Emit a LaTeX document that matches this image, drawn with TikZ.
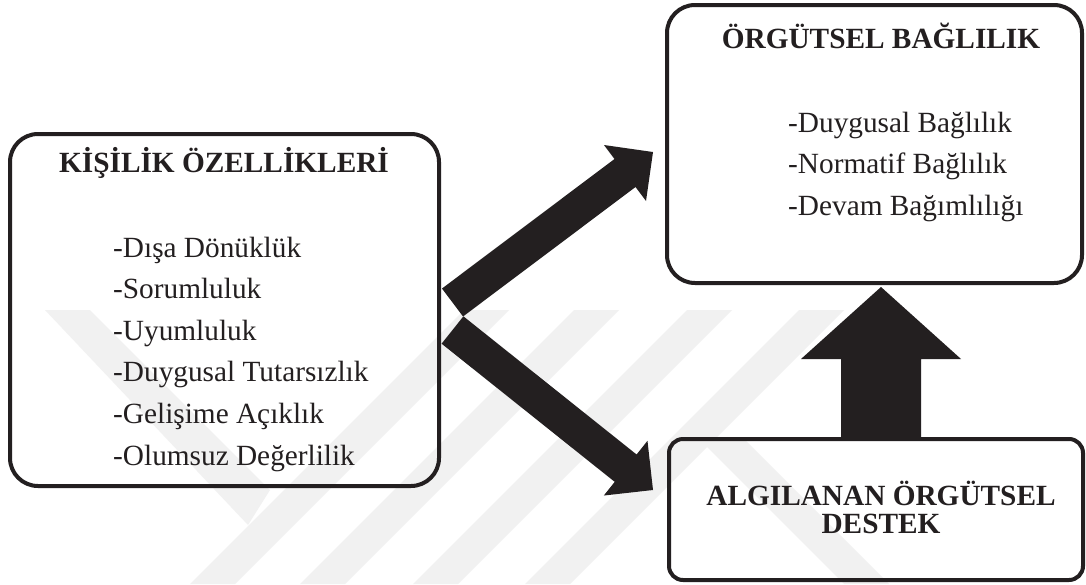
\documentclass[tikz,border=0pt]{standalone}
\usepackage{fontspec}
\setmainfont{Liberation Serif}
\usetikzlibrary{calc}
\definecolor{ink}{HTML}{231F20}
\definecolor{wm}{HTML}{F1F1F1}
\tikzset{
  box/.style={draw=ink, line width=4pt, inner sep=0pt, rounded corners=#1},
  box/.default=28pt,
  ttl/.style={font=\fontsize{29.3}{28}\selectfont\bfseries, text=ink, align=center},
  itm/.style={font=\fontsize{29.3}{35}\selectfont, text=ink, anchor=base west, inner sep=0pt},
  wmband/.style={fill=wm},
}
% thick block arrow: tail, tip, half shaft width, half head width, head length
\newcommand\fatarrow[5]{%
  \coordinate (fa-base) at ($(#2)!#5!(#1)$);
  \fill[ink] ($(#1)!#3!90:(#2)$) -- ($(fa-base)!#3!90:(#2)$) -- ($(fa-base)!#4!90:(#2)$)
    -- (#2) -- ($(fa-base)!#4!-90:(#2)$) -- ($(fa-base)!#3!-90:(#2)$) -- ($(#1)!#3!-90:(#2)$) -- cycle;}
\begin{document}
\begin{tikzpicture}[x=1pt,y=-1pt]
\useasboundingbox (0,0) rectangle (1086,584);
\fill[white] (0,0) rectangle (1086,584);

% faint background stripes
\begin{scope}
  \clip (0,310) rectangle (1086,584);
  \foreach \x in {190,300,413,525}
    \fill[wmband] (\x,584) -- (\x+45,584) -- (\x+319,310) -- (\x+274,310) -- cycle;
  \fill[wmband] (45,310) -- (90,310) -- (270,490) -- (248,525) -- cycle;
  \fill[wmband] (700,440) -- (745,440) -- (889,584) -- (844,584) -- cycle;
\end{scope}

% block arrows
\coordinate (t1) at (452.5,302.5);
\coordinate (p1) at (653,152);
\coordinate (t2) at (452.5,330);
\coordinate (p2) at (653,490);
\coordinate (t3) at (881,439);
\coordinate (p3) at (881,287);
\fatarrow{t1}{p1}{17.5pt}{35pt}{35pt}
\fatarrow{t2}{p2}{17.5pt}{35pt}{35pt}
\fatarrow{t3}{p3}{40pt}{80pt}{72pt}

% personality traits
\node[box, minimum width=429pt, minimum height=352pt] (kisilik) at (224.5,310) {};
\node[ttl, anchor=base] (kisilikT) at (224,172) {KİŞİLİK ÖZELLİKLERİ};
\foreach \t [count=\i from 0] in {-Dışa Dönüklük,-Sorumluluk,-Uyumluluk,-Duygusal Tutarsızlık,-Gelişime Açıklık,-Olumsuz Değerlilik}
  \node[itm] (k\i) at (113,257+41.6*\i) {\t};

% organisational commitment
\node[box, minimum width=415pt, minimum height=278pt] (baglilik) at (874.5,144) {};
\node[ttl, anchor=base] (baglilikT) at (881,48) {ÖRGÜTSEL BAĞLILIK};
\foreach \t [count=\i from 0] in {-Duygusal Bağlılık,-Normatif Bağlılık,-Devam Bağımlılığı}
  \node[itm] (b\i) at (788,132+41.5*\i) {\t};

% perceived organisational support
\node[box=14pt, minimum width=414pt, minimum height=141pt] (destek) at (876,509.5) {};
\node[ttl, anchor=base] (destekT) at (881,533) {ALGILANAN ÖRGÜTSEL\\DESTEK};
\end{tikzpicture}
\end{document}
